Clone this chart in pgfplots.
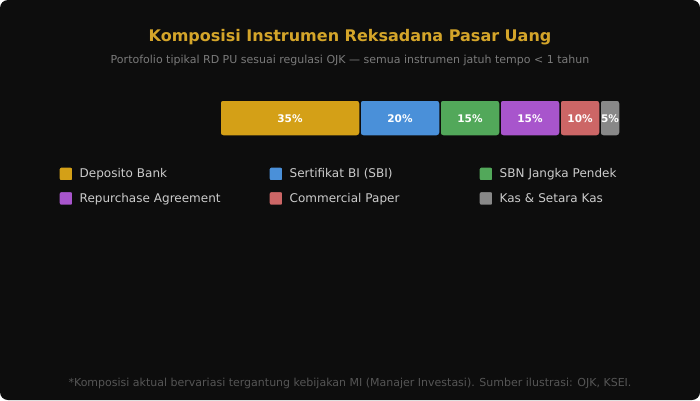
\documentclass[border=0pt]{standalone}
\usepackage{pgfplots}
\pgfplotsset{compat=1.18}
\usepackage{fontspec}
\setmainfont{DejaVu Sans}
\definecolor{bg}{HTML}{0D0D0D}
\definecolor{titlegold}{HTML}{D4A52A}
\definecolor{subgray}{HTML}{7A7A7A}
\definecolor{leggray}{HTML}{CCCCCC}
\definecolor{footgray}{HTML}{555555}
\definecolor{cgold}{HTML}{D4A017}
\definecolor{cblue}{HTML}{4A90D9}
\definecolor{cgreen}{HTML}{52A85A}
\definecolor{cpurple}{HTML}{A855CC}
\definecolor{cred}{HTML}{CC6666}
\definecolor{cgray}{HTML}{888888}
\pgfplotsset{seglabel/.style={nodes near coords={#1\%}}}
\begin{document}
\begin{tikzpicture}[x=1pt,y=1pt]
\fill[white] (0,0) rectangle (700,400);
\fill[bg, rounded corners=8pt] (0,0) rectangle (700,400);
\node[font=\bfseries\fontsize{16}{19}\selectfont, text=titlegold] at (350,363) {Komposisi Instrumen Reksadana Pasar Uang};
\node[font=\fontsize{11}{13}\selectfont, text=subgray] at (350,340) {Portofolio tipikal RD PU sesuai regulasi OJK — semua instrumen jatuh tempo < 1 tahun};
\node[font=\fontsize{11}{13}\selectfont, text=footgray] at (350,17) {*Komposisi aktual bervariasi tergantung kebijakan MI (Manajer Investasi). Sumber ilustrasi: OJK, KSEI.};
\begin{axis}[
  at={(220pt,264pt)}, anchor=south west,
  scale only axis, width=400pt, height=36pt,
  xmin=0, xmax=100, ymin=0.5, ymax=1.5,
  xbar stacked, bar width=36pt,
  hide axis, clip=false,
  every axis plot/.append style={draw=bg, line width=1.5pt, rounded corners=3pt},
  every node near coord/.append style={text=white, font=\bfseries\fontsize{10.5}{12}\selectfont, anchor=center, yshift=-1pt},
  legend columns=3,
  legend cell align=left,
  legend image code/.code={\fill[#1, rounded corners=2pt] (0pt,-7pt) rectangle (14pt,7pt);},
  legend style={at={(axis description cs:-0.405,-0.833)}, anchor=north west, draw=none, fill=none, inner sep=0pt, row sep=9pt, column sep=0pt, text=leggray, font=\fontsize{12}{14}\selectfont, nodes={text width=182.5pt, align=left, inner xsep=6pt, inner ysep=0pt}},
]
\addplot[fill=cgold, seglabel=35] coordinates {(35,1)};
\addplot[fill=cblue, seglabel=20] coordinates {(20,1)};
\addplot[fill=cgreen, seglabel=15] coordinates {(15,1)};
\addplot[fill=cpurple, seglabel=15] coordinates {(15,1)};
\addplot[fill=cred, seglabel=10] coordinates {(10,1)};
\addplot[fill=cgray, seglabel=5] coordinates {(5,1)};
\legend{Deposito Bank, Sertifikat BI (SBI), SBN Jangka Pendek, Repurchase Agreement, Commercial Paper, Kas \& Setara Kas}
\end{axis}
\end{tikzpicture}
\end{document}
